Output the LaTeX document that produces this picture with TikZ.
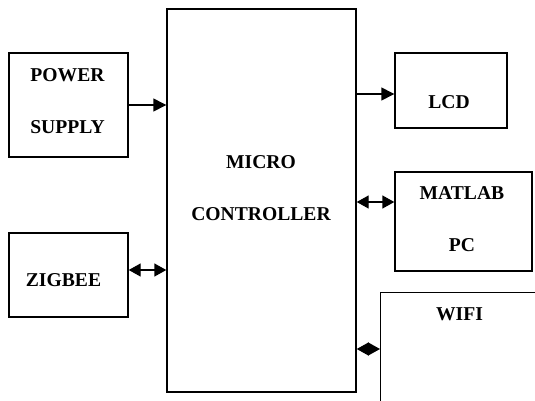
\documentclass[tikz,border=0pt]{standalone}
\usepackage{fontspec}
\setmainfont{Liberation Serif}
\usepackage{tikz}
\usetikzlibrary{arrows.meta}
\usetikzlibrary{calc}
\tikzstyle{blk} = [draw, line width=1.4pt, inner sep=0pt]
\tikzstyle{txt} = [font=\bfseries\fontsize{19.6}{52}\selectfont, align=center, inner sep=0pt]
\tikzstyle{arr} = [line width=1.4pt, -{Triangle[length=13pt,width=13pt]}]
\tikzstyle{biarr} = [line width=1.4pt, {Triangle[length=12pt,width=13pt]}-{Triangle[length=12pt,width=13pt]}]
\begin{document}
\begin{tikzpicture}[x=1pt,y=-1pt]
			\useasboundingbox (0,0) rectangle (535,400);
			% blocks
			\node[blk, minimum width=119, minimum height=104] (power) at (68.5,105) {};
			\node[blk, minimum width=189, minimum height=383] (micro) at (261.5,200.5) {};
			\node[blk, minimum width=112, minimum height=75] (lcd) at (451,90.5) {};
			\node[blk, minimum width=137, minimum height=99] (matlab) at (463.5,221.5) {};
			\node[blk, minimum width=119, minimum height=84] (zigbee) at (68.5,275) {};
			\node[blk, minimum width=220, minimum height=160, anchor=north west] (wifi) at (380,292) {};
			% texts
			\node[txt] (powertxt) at ($(power.center)+(-1,-3.5)$) {POWER\\SUPPLY};
			\node[txt] (microtxt) at ($(micro.center)+(-0.5,-12)$) {MICRO\\CONTROLLER};
			\node[txt] (lcdtxt) at ($(lcd.center)+(-2,11.5)$) {LCD};
			\node[txt] (matlabtxt) at ($(matlab.center)+(-1.5,-2.5)$) {MATLAB\\PC};
			\node[txt] (zigbeetxt) at ($(zigbee.center)+(-5,5)$) {ZIGBEE};
			\node[txt] (wifitxt) at ($(wifi.north west)+(79.5,22)$) {WIFI};
			% link ends
			\coordinate (lcdin) at ($(lcd.west)+(0,3.5)$);
			\coordinate (matlabin) at ($(matlab.west)+(0,-19.5)$);
			\coordinate (zigbeeout) at ($(zigbee.east)+(0,-5)$);
			\coordinate (wifiin) at ($(wifi.north west)+(0,57)$);
			% links
			\draw[arr] (power.east) -- (power.east -| micro.west);
			\draw[arr] (lcdin -| micro.east) -- (lcdin);
			\draw[biarr] (matlabin -| micro.east) -- (matlabin);
			\draw[biarr] (zigbeeout) -- (zigbeeout -| micro.west);
			\draw[biarr] (wifiin -| micro.east) -- (wifiin);
		\end{tikzpicture}
\end{document}
